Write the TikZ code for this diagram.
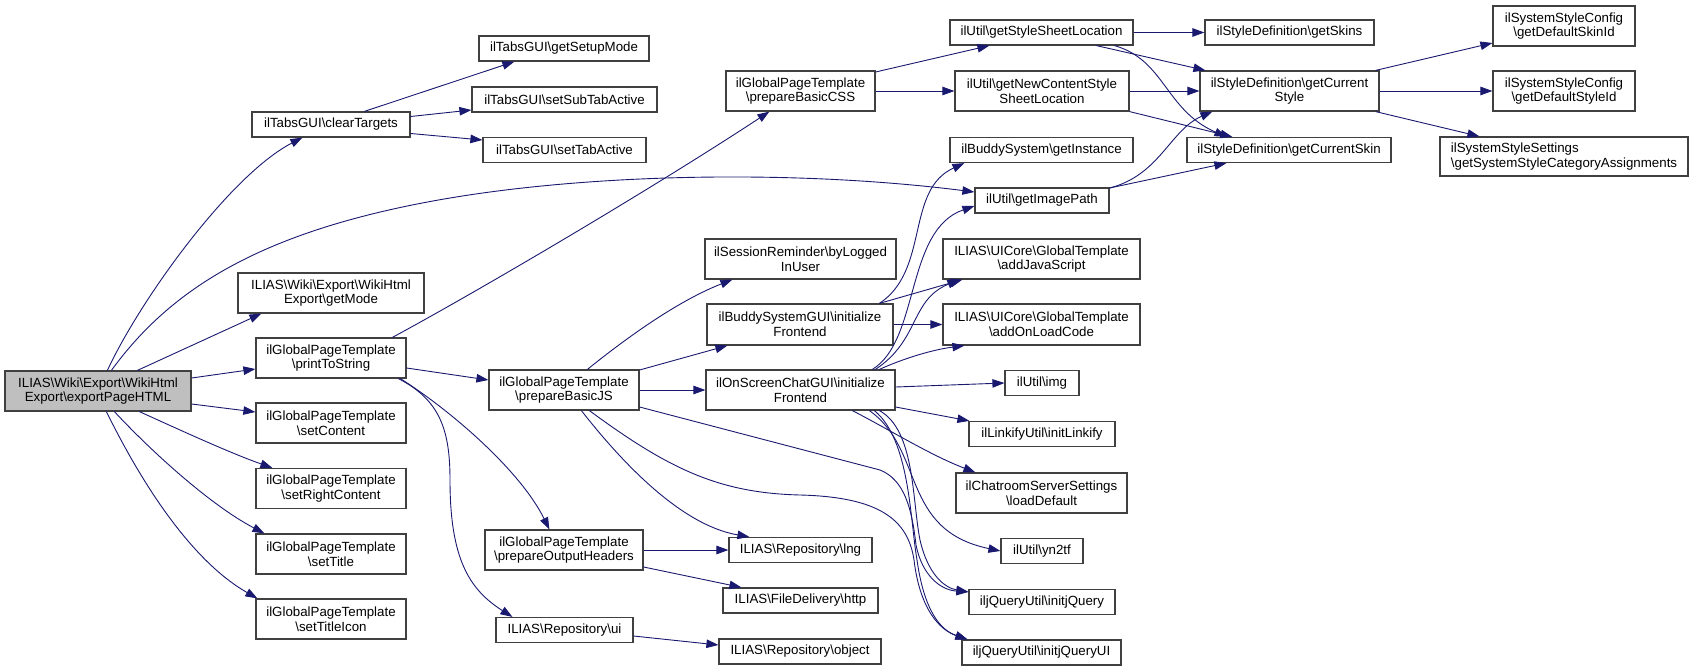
\documentclass[tikz,border=0pt]{standalone}
\usepackage{fontspec}
\setmainfont{Liberation Sans}
\usetikzlibrary{arrows.meta}
\newcommand{\bsl}{\textbackslash}
\definecolor{edgec}{HTML}{191970}
\definecolor{bordc}{HTML}{404040}
\definecolor{mainfill}{HTML}{BFBFBF}
\begin{document}
\begin{tikzpicture}[x=1pt,y=-1pt,
  fnbox/.style={draw=bordc, line width=1.2pt, fill=white, inner sep=0pt, align=center,
    font=\fontsize{13.3}{14.7}\selectfont},
  conn/.style={draw=edgec, line width=0.9pt, -{Triangle[length=12pt,width=8.5pt]}, fill=none}]
\useasboundingbox (0,0) rectangle (1693,671);
% column 0
\node[fnbox, fill=mainfill, minimum width=186pt, minimum height=40pt] (E) at (98,391) {ILIAS\bsl Wiki\bsl Export\bsl WikiHtml\\Export\bsl exportPageHTML};
% column 1
\node[fnbox, minimum width=158pt, minimum height=25pt] (CT) at (331,124.5) {ilTabsGUI\bsl clearTargets};
\node[fnbox, minimum width=186pt, minimum height=40pt] (GM) at (331,293) {ILIAS\bsl Wiki\bsl Export\bsl WikiHtml\\Export\bsl getMode};
\node[fnbox, minimum width=150pt, minimum height=40pt] (PS) at (331,358) {ilGlobalPageTemplate\\\bsl printToString};
\node[fnbox, minimum width=150pt, minimum height=40pt] (SC) at (331,423) {ilGlobalPageTemplate\\\bsl setContent};
\node[fnbox, minimum width=150pt, minimum height=40pt] (SRC) at (331,488.5) {ilGlobalPageTemplate\\\bsl setRightContent};
\node[fnbox, minimum width=150pt, minimum height=40pt] (ST) at (331,554) {ilGlobalPageTemplate\\\bsl setTitle};
\node[fnbox, minimum width=150pt, minimum height=40pt] (STI) at (331,619) {ilGlobalPageTemplate\\\bsl setTitleIcon};
% column 2
\node[fnbox, minimum width=170pt, minimum height=25pt] (GSM) at (564,48.5) {ilTabsGUI\bsl getSetupMode};
\node[fnbox, minimum width=185pt, minimum height=25pt] (SSTA) at (564.5,99.5) {ilTabsGUI\bsl setSubTabActive};
\node[fnbox, minimum width=163pt, minimum height=25pt] (STA) at (564.5,150) {ilTabsGUI\bsl setTabActive};
\node[fnbox, minimum width=150pt, minimum height=40pt] (PJS) at (564,390) {ilGlobalPageTemplate\\\bsl prepareBasicJS};
\node[fnbox, minimum width=158pt, minimum height=40pt] (POH) at (564,550) {ilGlobalPageTemplate\\\bsl prepareOutputHeaders};
\node[fnbox, minimum width=137pt, minimum height=25pt] (UI) at (564.5,630) {ILIAS\bsl Repository\bsl ui};
% column 3
\node[fnbox, minimum width=149pt, minimum height=40pt] (CSS) at (800.5,91) {ilGlobalPageTemplate\\\bsl prepareBasicCSS};
\node[fnbox, minimum width=191pt, minimum height=40pt] (BLU) at (800.5,259) {ilSessionReminder\bsl byLogged\\InUser};
\node[fnbox, minimum width=186pt, minimum height=41pt] (BSG) at (800,324.5) {ilBuddySystemGUI\bsl initialize\\Frontend};
\node[fnbox, minimum width=189pt, minimum height=40pt] (OSC) at (800.5,390) {ilOnScreenChatGUI\bsl initialize\\Frontend};
\node[fnbox, minimum width=143pt, minimum height=25pt] (LNG) at (800.5,550) {ILIAS\bsl Repository\bsl lng};
\node[fnbox, minimum width=155pt, minimum height=25pt] (HTTP) at (800.5,600.5) {ILIAS\bsl FileDelivery\bsl http};
\node[fnbox, minimum width=162pt, minimum height=25pt] (OBJ) at (800,651.5) {ILIAS\bsl Repository\bsl object};
% column 4
\node[fnbox, minimum width=183pt, minimum height=25pt] (GSSL) at (1041.5,32.5) {ilUtil\bsl getStyleSheetLocation};
\node[fnbox, minimum width=174pt, minimum height=40pt] (GNC) at (1042,91) {ilUtil\bsl getNewContentStyle\\SheetLocation};
\node[fnbox, minimum width=183pt, minimum height=25pt] (GI) at (1041.5,150) {ilBuddySystem\bsl getInstance};
\node[fnbox, minimum width=134pt, minimum height=25pt] (GIP) at (1042,200.5) {ilUtil\bsl getImagePath};
\node[fnbox, minimum width=197pt, minimum height=40pt] (AJS) at (1041.5,259) {ILIAS\bsl UICore\bsl GlobalTemplate\\\bsl addJavaScript};
\node[fnbox, minimum width=197pt, minimum height=41pt] (AOL) at (1041.5,324.5) {ILIAS\bsl UICore\bsl GlobalTemplate\\\bsl addOnLoadCode};
\node[fnbox, minimum width=74pt, minimum height=25pt] (IMG) at (1042,383) {ilUtil\bsl img};
\node[fnbox, minimum width=146pt, minimum height=25pt] (ILK) at (1042,434) {ilLinkifyUtil\bsl initLinkify};
\node[fnbox, minimum width=171pt, minimum height=40pt] (LD) at (1041.5,493) {ilChatroomServerSettings\\\bsl loadDefault};
\node[fnbox, minimum width=82pt, minimum height=25pt] (YN) at (1042,551) {ilUtil\bsl yn2tf};
\node[fnbox, minimum width=146pt, minimum height=25pt] (IJQ) at (1042,602) {iljQueryUtil\bsl initjQuery};
\node[fnbox, minimum width=159pt, minimum height=25pt] (IJQUI) at (1041.5,652.5) {iljQueryUtil\bsl initjQueryUI};
% column 5
\node[fnbox, minimum width=169pt, minimum height=25pt] (SKINS) at (1289.5,32.5) {ilStyleDefinition\bsl getSkins};
\node[fnbox, minimum width=179pt, minimum height=40pt] (GCST) at (1289.5,91) {ilStyleDefinition\bsl getCurrent\\Style};
\node[fnbox, minimum width=204pt, minimum height=25pt] (GCSK) at (1289,150) {ilStyleDefinition\bsl getCurrentSkin};
% column 6
\node[fnbox, minimum width=142pt, minimum height=40pt] (DSK) at (1564,26) {ilSystemStyleConfig\\\bsl getDefaultSkinId};
\node[fnbox, minimum width=142pt, minimum height=40pt] (DST) at (1564,91) {ilSystemStyleConfig\\\bsl getDefaultStyleId};
\node[fnbox, minimum width=248pt, minimum height=39pt, align=left] (SSA) at (1564,156.5) {ilSystemStyleSettings\\\bsl getSystemStyleCategoryAssignments};

% edges from E
\draw[conn] ([xshift=103pt]E.north west) .. controls (140,300) and (230,175) .. ([xshift=51pt]CT.south west);
\draw[conn] ([xshift=107pt]E.north west) .. controls (170,290) and (260,230) .. (450,198) .. controls (600,173) and (800,170) .. ([yshift=8.5pt]GIP.west);
\draw[conn] ([xshift=133pt]E.north west) -- ([xshift=24pt]GM.south west);
\draw[conn] ([yshift=13pt]E.east) -- ([yshift=-11pt]PS.west);
\draw[conn] ([yshift=-13pt]E.east) -- ([yshift=11pt]SC.west);
\draw[conn] ([xshift=135pt]E.south west) .. controls (180,430) and (230,453) .. ([xshift=17pt]SRC.north west);
\draw[conn] ([xshift=110pt]E.south west) .. controls (150,450) and (210,505) .. ([xshift=9pt]ST.north west);
\draw[conn] ([xshift=102pt]E.south west) .. controls (140,480) and (190,560) .. ([xshift=2pt]STI.north west);
% clearTargets
\draw[conn] ([xshift=113pt]CT.north west) -- ([xshift=36pt]GSM.south west);
\draw[conn] ([yshift=8pt]CT.east) -- ([yshift=-10.5pt]SSTA.west);
\draw[conn] ([yshift=-9pt]CT.east) -- ([yshift=10pt]STA.west);
% printToString
\draw[conn] ([xshift=137pt]PS.north west) .. controls (480,290) and (650,190) .. ([xshift=44pt]CSS.south west);
\draw[conn] ([yshift=-10pt]PS.east) -- ([yshift=10pt]PJS.west);
\draw[conn] ([xshift=145pt]PS.south west) .. controls (450,410) and (520,470) .. ([xshift=65pt]POH.north west);
\draw[conn] ([xshift=143pt]PS.south west) .. controls (440,400) and (450,430) .. (450,480) .. controls (450,560) and (470,590) .. ([xshift=17pt]UI.north west);
% prepareBasicCSS
\draw[conn] ([yshift=19pt]CSS.east) -- ([xshift=40pt]GSSL.south west);
\draw[conn] (CSS.east) -- (GNC.west);
% getStyleSheetLocation
\draw[conn] (GSSL.east) -- (SKINS.west);
\draw[conn] ([xshift=147pt]GSSL.south west) -- ([xshift=6pt]GCST.north west);
\draw[conn] ([xshift=165pt]GSSL.south west) .. controls (1165,60) and (1165,110) .. ([xshift=40pt]GCSK.north west);
% getNewContentStyleSheetLocation
\draw[conn] (GNC.east) -- (GCST.west);
\draw[conn] (GNC.south east) -- ([xshift=46pt]GCSK.north west);
% getCurrentStyle
\draw[conn] ([xshift=-4pt]GCST.north east) -- ([yshift=-17pt]DSK.west);
\draw[conn] (GCST.east) -- (DST.west);
\draw[conn] ([xshift=-4pt]GCST.south east) -- ([xshift=40pt]SSA.north west);
% getImagePath
\draw[conn] ([yshift=12.5pt]GIP.east) .. controls (1160,175) and (1170,130) .. ([xshift=13pt]GCST.south west);
\draw[conn] ([yshift=12.5pt]GIP.east) -- ([xshift=40pt]GCSK.south west);
% prepareBasicJS
\draw[conn] ([xshift=99pt]PJS.north west) .. controls (630,335) and (680,300) .. ([xshift=28pt]BLU.south west);
\draw[conn] ([yshift=20pt]PJS.east) -- ([xshift=21pt]BSG.south west);
\draw[conn] (PJS.east) -- (OSC.west);
\draw[conn] ([xshift=93pt]PJS.south west) .. controls (620,460) and (680,525) .. ([xshift=21pt]LNG.north west);
\draw[conn] ([yshift=-17pt]PJS.east) -- (880,470) .. controls (905,480) and (912,510) .. (916,545) .. controls (922,575) and (940,590) .. ([yshift=-3pt]IJQ.north west);
\draw[conn] ([xshift=101pt]PJS.south west) .. controls (670,470) and (720,493) .. (800,495) .. controls (880,497) and (908,520) .. (914,560) .. controls (920,610) and (940,630) .. ([xshift=6pt]IJQUI.north west);
% prepareOutputHeaders, ui
\draw[conn] (POH.east) -- (LNG.west);
\draw[conn] ([yshift=-17pt]POH.east) -- ([xshift=19pt]HTTP.north west);
\draw[conn] ([yshift=-6pt]UI.east) -- ([yshift=6.5pt]OBJ.west);
% BuddySystemGUI
\draw[conn] ([xshift=173pt]BSG.north west) .. controls (930,270) and (905,190) .. ([xshift=15pt]GI.south west);
\draw[conn] ([xshift=173pt]BSG.north west) -- ([xshift=20pt]AJS.south west);
\draw[conn] (BSG.east) -- (AOL.west);
% OnScreenChatGUI
\draw[conn] ([xshift=167pt]OSC.north west) .. controls (920,340) and (905,230) .. ([yshift=-5.5pt]GIP.west);
\draw[conn] ([xshift=170pt]OSC.north west) .. controls (920,340) and (910,300) .. ([xshift=17pt]AJS.south west);
\draw[conn] ([xshift=174pt]OSC.north west) .. controls (900,360) and (930,350) .. ([xshift=22pt]AOL.south west);
\draw[conn] ([yshift=3pt]OSC.east) -- (IMG.west);
\draw[conn] ([yshift=-17pt]OSC.east) -- ([xshift=1pt]ILK.north west);
\draw[conn] ([xshift=147pt]OSC.south west) .. controls (890,430) and (930,455) .. ([xshift=20pt]LD.north west);
\draw[conn] ([xshift=164pt]OSC.south west) .. controls (925,450) and (900,530) .. (YN.west);
\draw[conn] ([xshift=174pt]OSC.south west) .. controls (915,430) and (912,500) .. (920,540) .. controls (928,575) and (945,588) .. ([yshift=-3pt]IJQ.north west);
\draw[conn] ([xshift=169pt]OSC.south west) .. controls (910,440) and (910,520) .. (917,560) .. controls (924,610) and (940,630) .. ([xshift=6pt]IJQUI.north west);
\end{tikzpicture}
\end{document}
